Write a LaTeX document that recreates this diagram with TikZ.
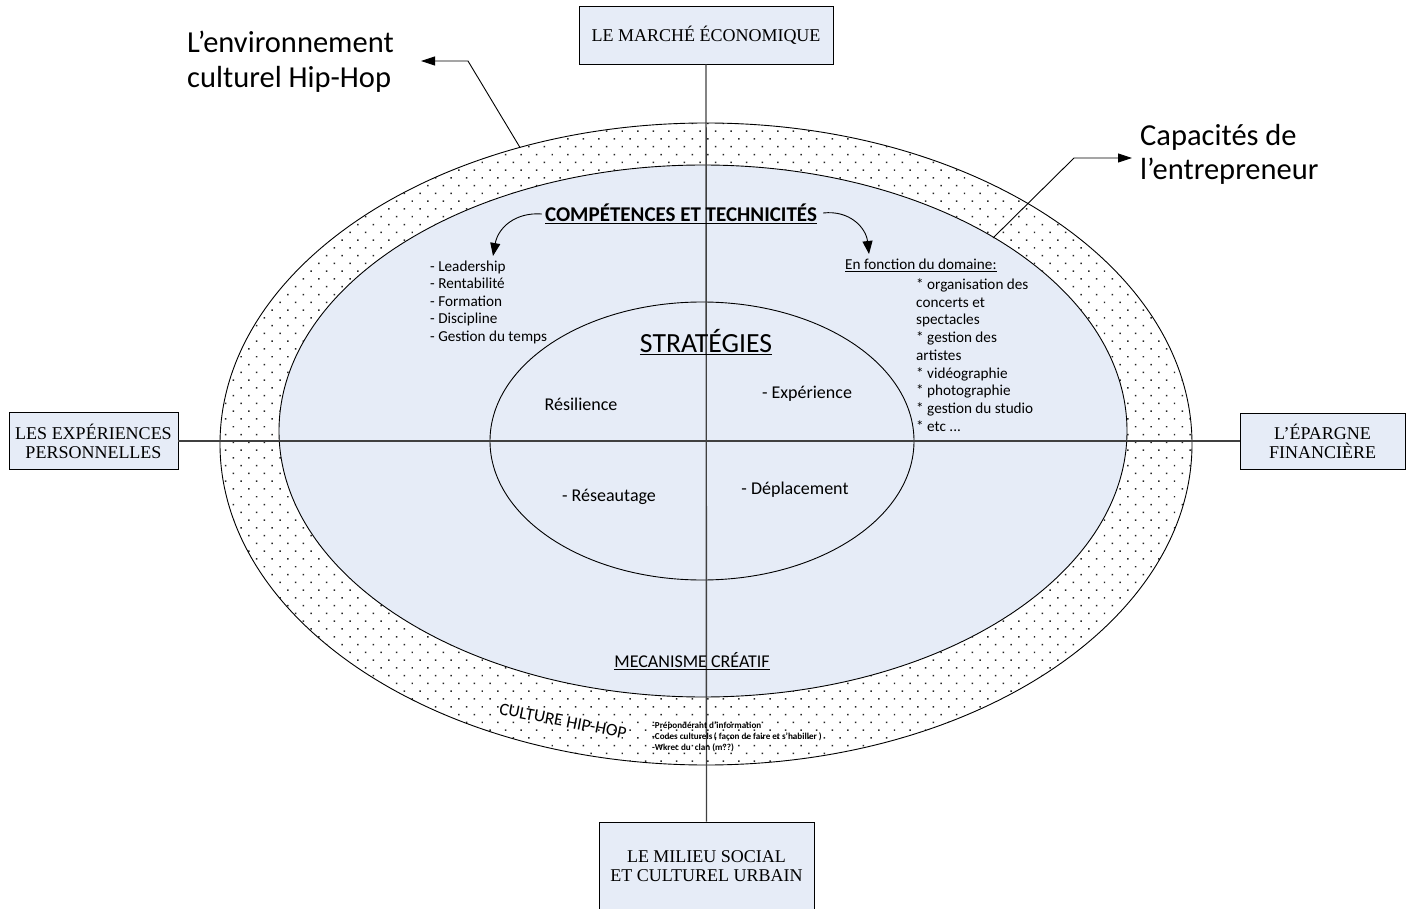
\documentclass[tikz,border=0pt]{standalone}
\usepackage{fontspec}
\setmainfont{Carlito}
\newfontfamily\serifbox{Liberation Serif}
\usetikzlibrary{arrows.meta,patterns.meta}
\definecolor{paleblue}{HTML}{E6ECF7}
\definecolor{linegray}{HTML}{404040}
\tikzset{
  box/.style={draw=black, fill=paleblue, line width=0.8pt, align=center, font=\serifbox\fontsize{18}{21}\selectfont},
  axis/.style={draw=linegray, line width=1.4pt},
  callout/.style={draw=black, line width=0.9pt, -{Triangle[length=14pt,width=9pt]}},
  curvearrow/.style={draw=black, line width=0.9pt, -{Triangle[length=13pt,width=10pt]}},
  bigtxt/.style={font=\fontsize{30.5}{34.5}\selectfont, align=left, anchor=north west, inner sep=0pt},
  listtxt/.style={font=\fontsize{15.2}{17.5}\selectfont, align=left, anchor=north west, inner sep=0pt},
  midtxt/.style={font=\fontsize{18}{20}\selectfont, inner sep=0pt},
}
\begin{document}
\begin{tikzpicture}[x=1pt,y=-1pt]
\useasboundingbox (0,0) rectangle (1411,909);
% ellipses
\fill[white] (706,444) ellipse [x radius=486pt, y radius=321pt];
\fill[pattern={Dots[distance=11pt, angle=45, radius=1.05pt]}, pattern color=black!85] (706,444) ellipse [x radius=486pt, y radius=321pt];
\draw[line width=0.9pt] (706,444) ellipse [x radius=486pt, y radius=321pt];
\draw[line width=0.9pt, fill=paleblue] (703,431) ellipse [x radius=424pt, y radius=266pt];
\draw[line width=0.9pt, fill=paleblue] (702,441) ellipse [x radius=212pt, y radius=139pt];
% boxes
\node[box, minimum width=254pt, minimum height=58pt] (top) at (706,35) {LE MARCHÉ ÉCONOMIQUE};
\node[box, minimum width=169pt, minimum height=57pt] (left) at (93.5,441) {LES EXPÉRIENCES\\[-2pt]PERSONNELLES};
\node[box, minimum width=165pt, minimum height=56pt] (right) at (1322.5,441) {L’ÉPARGNE\\[-2pt]FINANCIÈRE};
\node[box, minimum width=215pt, minimum height=88pt] (bottom) at (706.5,866) {LE MILIEU SOCIAL\\[-2pt]ET CULTUREL URBAIN};
% axes
\draw[axis] (top.south) -- (bottom.north);
\draw[axis] (left.east) -- (right.west);
% outer labels
\node[bigtxt] (envlbl) at (187,31) {L’environnement\\culturel Hip-Hop};
\node[bigtxt] (caplbl) at (1140,124) {Capacités de\\l’entrepreneur};
\coordinate (envstart) at (520,147.5);
\coordinate (envtip) at (421,61);
\coordinate (capstart) at (993,238);
\coordinate (captip) at (1132,158);
\draw[callout] (envstart) -- (468,61) -- (envtip);
\draw[callout] (capstart) -- (1074,158) -- (captip);
% competences
\node[font=\bfseries\fontsize{21}{23}\selectfont, inner sep=0pt] (comp) at (681,214) {\underline{COMPÉTENCES ET TECHNICITÉS}};
\coordinate (ltip) at (493,256);
\coordinate (rtip) at (869,254);
\draw[curvearrow] (comp.west) ++(-3,0) .. controls (515,212) and (498,228) .. (ltip);
\draw[curvearrow] (comp.east) ++(6,-1) .. controls (850,210) and (866,228) .. (rtip);
\node[listtxt] (llist) at (430,260.5) {- Leadership\\- Rentabilité\\- Formation\\- Discipline\\- Gestion du temps};
\node[listtxt, anchor=base west] (dom) at (845,270) {\underline{En fonction du domaine:}};
\node[listtxt] (rlist) at (916,278.5) {* organisation des\\[0.25pt]concerts et\\[0.25pt]spectacles\\[0.25pt]* gestion des\\[0.25pt]artistes\\[0.25pt]* vidéographie\\[0.25pt]* photographie\\[0.25pt]* gestion du studio\\[0.25pt]* etc ...};
% strategies
\node[font=\fontsize{27.7}{30}\selectfont, inner sep=0pt] (strat) at (706,342) {\underline{STRATÉGIES}};
\node[midtxt] (resil) at (581,404) {Résilience};
\node[midtxt] (exper) at (807,394) {- Expérience};
\node[midtxt] (reseau) at (609,497) {- Réseautage};
\node[midtxt] (depl) at (795,490) {- Déplacement};
\node[midtxt] (meca) at (692,661) {\underline{MECANISME CRÉATIF}};
% culture hip-hop
\node[font=\fontsize{17.5}{19}\selectfont, rotate=-11, inner sep=0pt] (culture) at (563,721) {CULTURE HIP-HOP};
\node[font=\bfseries\fontsize{9.1}{11}\selectfont, align=left, anchor=north west, inner sep=0pt] (cnotes) at (652,722) {-Prépondérant d’information\\-Codes culturels\,( façon de faire et s’habiller )\\-Wkrec du\ \ clan (m??)};
\end{tikzpicture}
\end{document}
